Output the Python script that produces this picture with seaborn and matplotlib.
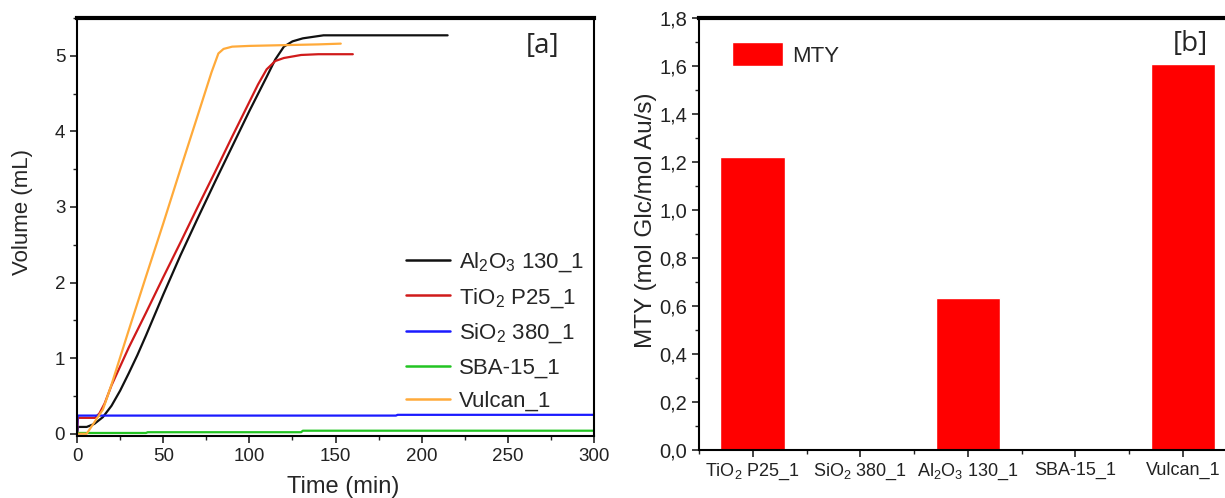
import numpy as np
import pandas as pd
import matplotlib
matplotlib.use("Agg")
import matplotlib.pyplot as plt
from matplotlib.ticker import MultipleLocator, FixedLocator
import seaborn as sns

sns.set_theme(style="white")
plt.rcParams['font.family'] = ['Liberation Sans', 'DejaVu Sans']
plt.rcParams['mathtext.fontset'] = 'custom'
plt.rcParams['mathtext.rm'] = 'Liberation Sans'
plt.rcParams['mathtext.default'] = 'regular'

# ---------------- Panel a data ----------------
al_t = [0, 0.5, 5.6, 10, 15, 20, 25, 30, 35, 40, 50, 60, 70, 80, 90, 100, 110, 115, 120, 125, 131, 143, 215]
al_v = [0, 0.09, 0.09, 0.13, 0.22, 0.37, 0.57, 0.80, 1.04, 1.30, 1.84, 2.36, 2.85, 3.33, 3.80, 4.27, 4.72, 4.95, 5.12, 5.19, 5.23, 5.27, 5.27]
ti_t = [0, 0.5, 10.4, 13, 16, 20, 30, 40, 50, 60, 70, 80, 90, 100, 105, 110, 115, 120, 130, 140, 160]
ti_v = [0, 0.21, 0.21, 0.27, 0.40, 0.64, 1.14, 1.60, 2.07, 2.53, 3.00, 3.46, 3.93, 4.39, 4.62, 4.82, 4.93, 4.97, 5.01, 5.02, 5.02]
si_t = [0, 0.3, 185, 186, 300]
si_v = [0, 0.24, 0.24, 0.25, 0.25]
sba_t = [0, 40, 41, 130, 131, 300]
sba_v = [0.01, 0.01, 0.02, 0.02, 0.04, 0.04]
vu_t = [0, 5.6, 10, 15, 20, 30, 40, 50, 60, 70, 78, 82, 85, 90, 100, 120, 140, 153]
vu_v = [0, 0, 0.15, 0.32, 0.65, 1.37, 2.08, 2.78, 3.50, 4.21, 4.78, 5.03, 5.09, 5.12, 5.13, 5.14, 5.15, 5.16]

series_names = [r'Al$_2$O$_3$ 130_1', r'TiO$_2$ P25_1', r'SiO$_2$ 380_1', 'SBA-15_1', 'Vulcan_1']
series_colors = ['#111111', '#d01a1a', '#1a1aff', '#22c422', '#ffaa3a']
series_data = [(al_t, al_v), (ti_t, ti_v), (si_t, si_v), (sba_t, sba_v), (vu_t, vu_v)]

# ---------------- Panel b data ----------------
cats = [r'TiO$_2$ P25_1', r'SiO$_2$ 380_1', r'Al$_2$O$_3$ 130_1', 'SBA-15_1', 'Vulcan_1']
mty = [1.22, 0.0, 0.635, 0.0, 1.61]
yticks_b = [0.0, 0.2, 0.4, 0.6, 0.8, 1.0, 1.2, 1.4, 1.6, 1.8]
yticklabels_b = ['0,0', '0,2', '0,4', '0,6', '0,8', '1,0', '1,2', '1,4', '1,6', '1,8']

fig = plt.figure(figsize=(12.25, 4.98), dpi=100)
ax1 = fig.add_axes([0.0629, 0.1245, 0.4221, 0.8395])
ax2 = fig.add_axes([0.5706, 0.0964, 0.4294, 0.8676])

for name, col, (t, v) in zip(series_names, series_colors, series_data):
    df = pd.DataFrame({'t': t, 'v': v})
    sns.lineplot(data=df, x='t', y='v', ax=ax1, color=col, lw=1.6, label=name,
                 sort=False, estimator=None)

ax1.set_xlim(0, 300)
ax1.set_ylim(-0.03, 5.5)
ax1.xaxis.set_major_locator(MultipleLocator(50))
ax1.xaxis.set_minor_locator(MultipleLocator(25))
ax1.yaxis.set_major_locator(FixedLocator([0, 1, 2, 3, 4, 5]))
ax1.yaxis.set_minor_locator(MultipleLocator(0.5))
ax1.tick_params(which='both', direction='out', bottom=True, left=True, labelsize=13.5, colors='#222222')
ax1.tick_params(which='major', length=5, width=1.2)
ax1.tick_params(which='minor', length=3, width=1.0)
ax1.set_xlabel('Time (min)', fontsize=17)
ax1.set_ylabel('Volume (mL)', fontsize=16)
ax1.xaxis.set_label_coords(0.515, -0.096)
ax1.yaxis.set_label_coords(-0.085, 0.536)
for s in ax1.spines.values():
    s.set_color('black')
    s.set_linewidth(1.5)
ax1.spines['top'].set_linewidth(3)
ax1.text(0.9, 0.932, '[a]', transform=ax1.transAxes, fontsize=20, ha='center', va='center',
         family=['Open Sans', 'DejaVu Sans'])
leg = ax1.legend(loc='lower right', bbox_to_anchor=(1.02, 0.01), frameon=False, fontsize=16,
                 handlelength=2.0, handletextpad=0.4, labelspacing=0.55)
for lh in leg.get_lines():
    lh.set_linewidth(1.8)

# ---------------- Panel b ----------------
dfb = pd.DataFrame({'cat': cats, 'mty': mty})
sns.barplot(data=dfb, x='cat', y='mty', ax=ax2, color='#ff0000', saturation=1, width=0.6,
            label='MTY', order=cats)
ax2.set_xlim(-0.5, 4.39)
ax2.set_ylim(0, 1.8)
ax2.set_yticks(yticks_b)
ax2.set_yticklabels(yticklabels_b)
ax2.yaxis.set_minor_locator(MultipleLocator(0.1))
ax2.xaxis.set_minor_locator(FixedLocator([-0.5, 0.5, 1.5, 2.5, 3.5]))
ax2.tick_params(which='both', direction='out', bottom=True, left=True, colors='#222222')
ax2.tick_params(axis='x', labelsize=13)
ax2.tick_params(axis='y', labelsize=14.5)
ax2.tick_params(which='major', length=5, width=1.2)
ax2.tick_params(which='minor', length=3, width=1.0)
ax2.set_xlabel('')
ax2.set_ylabel('MTY (mol Glc/mol Au/s)', fontsize=17.5)
ax2.yaxis.set_label_coords(-0.08, 0.532)
for s in ax2.spines.values():
    s.set_color('black')
    s.set_linewidth(1.5)
ax2.spines['top'].set_linewidth(3)
ax2.spines['right'].set_visible(False)
ax2.text(0.935, 0.94, '[b]', transform=ax2.transAxes, fontsize=20, ha='center', va='center',
         family=['Open Sans', 'DejaVu Sans'])
ax2.legend(loc='upper left', bbox_to_anchor=(0.025, 0.99), frameon=False, fontsize=16,
           handlelength=2.3, handleheight=1.3, handletextpad=0.4)

fig.savefig('out.png', dpi=100)
